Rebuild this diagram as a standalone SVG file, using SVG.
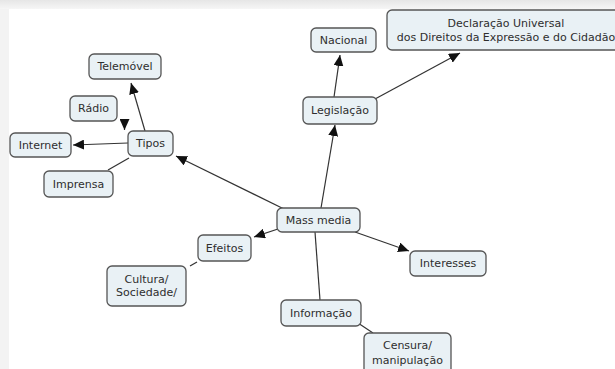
<svg xmlns="http://www.w3.org/2000/svg" width="615" height="369" viewBox="0 0 615 369">
<defs>
<marker id="arr" markerUnits="userSpaceOnUse" markerWidth="12" markerHeight="10" refX="11" refY="5" orient="auto">
<path d="M0,0 L11,5 L0,10 Z" fill="#111"/>
</marker>
<linearGradient id="topg" x1="0" y1="0" x2="0" y2="1">
<stop offset="0" stop-color="#e6e6e6"/>
<stop offset="1" stop-color="#f6f6f6"/>
</linearGradient>
</defs>
<style>
.n rect{fill:#e9f1f5;stroke:#555;stroke-width:1.3}
.n text{font-family:"DejaVu Sans",Verdana,sans-serif;font-size:11px;fill:#2e2e2e;text-anchor:middle;dominant-baseline:central}
.c line{stroke:#333;stroke-width:1.2}
.c .a{marker-end:url(#arr)}
</style>
<rect x="0" y="0" width="615" height="369" fill="#f3f3f3"/>
<rect x="0" y="0" width="615" height="9" fill="url(#topg)"/>
<rect x="9" y="9" width="606" height="360" fill="#ffffff"/>
<g id="connectors" class="c">
<line class="a" x1="284" y1="209" x2="176" y2="156"/>
<line class="a" x1="145" y1="131" x2="131" y2="83"/>
<line class="a" x1="124.5" y1="119" x2="124.5" y2="130"/>
<line class="a" x1="128" y1="143" x2="73" y2="145"/>
<line x1="129" y1="158" x2="108" y2="170"/>
<line class="a" x1="321" y1="208" x2="335" y2="125"/>
<line class="a" x1="334" y1="97" x2="340" y2="55"/>
<line class="a" x1="375" y1="99" x2="460" y2="53"/>
<line class="a" x1="278" y1="229" x2="254" y2="237"/>
<line x1="197" y1="262" x2="190" y2="266"/>
<line class="a" x1="355" y1="232" x2="409" y2="251"/>
<line x1="315" y1="232" x2="320" y2="300"/>
<line x1="358" y1="323" x2="373" y2="333"/>
</g>
<g id="telemovel" class="n"><rect x="89" y="54" width="72" height="25" rx="5"/><text x="125" y="66.5">Telemóvel</text></g>
<g id="radio" class="n"><rect x="70" y="96" width="47" height="25" rx="5"/><text x="93.5" y="108.5">Rádio</text></g>
<g id="internet" class="n"><rect x="10" y="133" width="61" height="24" rx="5"/><text x="40.5" y="145">Internet</text></g>
<g id="tipos" class="n"><rect x="128" y="131" width="45" height="25" rx="5"/><text x="150.5" y="143.5">Tipos</text></g>
<g id="imprensa" class="n"><rect x="44" y="171" width="69" height="26" rx="5"/><text x="78.5" y="184">Imprensa</text></g>
<g id="nacional" class="n"><rect x="311" y="28" width="65" height="24" rx="5"/><text x="343.5" y="40">Nacional</text></g>
<g id="declaracao" class="n"><rect x="387" y="10" width="238" height="40" rx="5"/><text x="506" y="23">Declaração Universal</text><text x="506" y="37">dos Direitos da Expressão e do Cidadão</text></g>
<g id="legislacao" class="n"><rect x="303" y="97" width="74" height="27" rx="5"/><text x="340" y="110.5">Legislação</text></g>
<g id="massmedia" class="n"><rect x="277" y="208" width="83" height="24" rx="5"/><text x="318.5" y="220">Mass media</text></g>
<g id="efeitos" class="n"><rect x="198" y="235" width="53" height="26" rx="5"/><text x="224.5" y="248">Efeitos</text></g>
<g id="cultura" class="n"><rect x="107" y="266" width="79" height="40" rx="5"/><text x="146.5" y="279">Cultura/</text><text x="146.5" y="292.5">Sociedade/</text></g>
<g id="interesses" class="n"><rect x="410" y="251" width="76" height="25" rx="5"/><text x="448" y="263.5">Interesses</text></g>
<g id="informacao" class="n"><rect x="281" y="300" width="80" height="26" rx="5"/><text x="321" y="313">Informação</text></g>
<g id="censura" class="n"><rect x="364" y="333" width="87" height="45" rx="5"/><text x="407.5" y="345.5">Censura/</text><text x="407.5" y="360">manipulação</text></g>
</svg>
